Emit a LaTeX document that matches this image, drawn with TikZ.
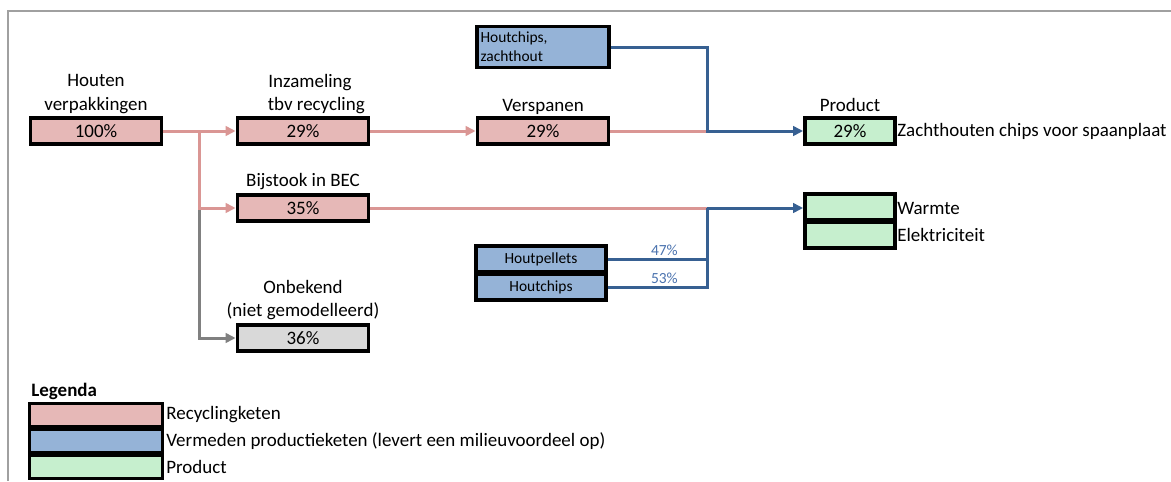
\documentclass[tikz,border=0pt]{standalone}
\usepackage{fontspec}
\setmainfont{Carlito}
\usetikzlibrary{arrows.meta}
\definecolor{pinkFill}{HTML}{E6B8B7}
\definecolor{blueFill}{HTML}{95B3D7}
\definecolor{greenFill}{HTML}{C6EFCE}
\definecolor{greyFill}{HTML}{D9D9D9}
\definecolor{pinkLine}{HTML}{DA9694}
\definecolor{blueLine}{HTML}{376092}
\definecolor{greyLine}{HTML}{808080}
\definecolor{pctBlue}{HTML}{4A72AE}
\definecolor{frameGrey}{HTML}{A0A0A0}
\newcommand{\mainSize}{\fontsize{10.8}{13.6}\selectfont}
\newcommand{\smallSize}{\fontsize{8.8}{11}\selectfont}
\tikzstyle{box} = [rectangle, draw=black, line width=0.075cm, inner sep=0pt, minimum height=0.52cm, font=\mainSize]
\tikzstyle{boxPink} = [box, minimum width=2.62cm, fill=pinkFill]
\tikzstyle{boxGrey} = [box, minimum width=2.62cm, fill=greyFill]
\tikzstyle{boxBlue} = [box, minimum width=2.64cm, fill=blueFill, font=\smallSize]
\tikzstyle{boxGreen} = [box, minimum width=1.8cm, fill=greenFill]
\tikzstyle{boxLegend} = [box, minimum width=2.66cm, minimum height=0.46cm]
\tikzstyle{label} = [align=center, font=\mainSize, inner sep=0pt]
\tikzstyle{sideText} = [anchor=west, font=\mainSize, inner sep=0pt]
\tikzstyle{pctLabel} = [font=\smallSize, text=pctBlue, inner sep=1pt]
\tikzstyle{linePink} = [draw=pinkLine, line width=0.06cm]
\tikzstyle{lineBlue} = [draw=blueLine, line width=0.06cm]
\tikzstyle{arrowPink} = [linePink, -{Triangle[length=0.2cm, width=0.19cm]}]
\tikzstyle{arrowBlue} = [lineBlue, -{Triangle[length=0.2cm, width=0.19cm]}]
\tikzstyle{arrowGrey} = [draw=greyLine, line width=0.06cm, -{Triangle[length=0.2cm, width=0.19cm]}]

\begin{document}
\begin{tikzpicture}[x=0.02cm, y=-0.02cm]

\useasboundingbox (0,0) rectangle (1171,481);
\draw[frameGrey, line width=0.04cm] (8,481) -- (8,11) -- (1171,11);

% recycling chain
\node (houten) [boxPink] at (96,131) {100\%};
\node (inzameling) [boxPink] at (303,131) {29\%};
\node (verspanen) [boxPink] at (543,131) {29\%};
\node (bijstook) [boxPink] at (303,208) {35\%};
\node (onbekend) [boxGrey] at (303,338) {36\%};

\node (houtenText) [label] at (96,94) {Houten\\verpakkingen};
\node (inzamelingText) [label] at (310,94) {Inzameling\\\hspace{0.25cm}tbv recycling};
\node (verspanenText) [label] at (543,107) {Verspanen};
\node (bijstookText) [label] at (303,182) {Bijstook in BEC};
\node (onbekendText) [label] at (303,300) {Onbekend\\(niet gemodelleerd)};

% avoided production
\node (zachthout) [boxBlue, minimum height=0.82cm, text width=2.5cm, inner xsep=0.07cm, align=left] at (543,47) {Houtchips,\\zachthout};
\node (houtpellets) [boxBlue, minimum width=2.6cm] at (541,259) {Houtpellets};
\node (houtchips) [boxBlue, minimum width=2.6cm] at (541,287) {Houtchips};

% products
\node (product) [boxGreen] at (850,131) {29\%};
\node (warmte) [boxGreen] at (850,207) {};
\node (elektriciteit) [boxGreen] at (850,235) {};
\node (productText) [label] at (850,105) {Product};
\node (chipsText) [sideText] at (897,131) {Zachthouten chips voor spaanplaat};
\node (warmteText) [sideText] at (897,208) {Warmte};
\node (elektriciteitText) [sideText] at (897,235) {Elektriciteit};

% connectors
\coordinate (splitTop) at (199,131);
\coordinate (splitMid) at (199,208);
\coordinate (joinTop) at (707,131);
\coordinate (joinMid) at (707,208);

\draw[arrowGrey] (splitMid) |- (onbekend.west);
\draw[arrowPink] (houten.east) -- (inzameling.west);
\draw[arrowPink] (splitTop) |- (bijstook.west);
\draw[arrowPink] (inzameling.east) -- (verspanen.west);
\draw[linePink] (verspanen.east) -- (joinTop);
\draw[linePink] (bijstook.east) -- (joinMid);
\draw[arrowBlue] (zachthout.east) -| (joinTop) -- (product.west);
\draw[lineBlue] (houtpellets.east) -- node[pctLabel, above, pos=0.57] {47\%} (houtpellets.east -| joinMid) -- (joinMid);
\draw[lineBlue] (houtchips.east) -- node[pctLabel, above, pos=0.57] {53\%} (houtchips.east -| joinMid) -- (joinMid);
\draw[arrowBlue] (joinMid) -- (joinMid -| warmte.west);

% legend
\node (legenda) [sideText, font=\mainSize\bfseries] at (31,391) {Legenda};
\node (legendPink) [boxLegend, fill=pinkFill] at (96,415) {};
\node (legendBlue) [boxLegend, fill=blueFill] at (96,441) {};
\node (legendGreen) [boxLegend, fill=greenFill] at (96,467) {};
\node (legendPinkText) [sideText] at (166,415) {Recyclingketen};
\node (legendBlueText) [sideText] at (166,441) {Vermeden productieketen (levert een milieuvoordeel op)};
\node (legendGreenText) [sideText] at (166,467) {Product};

\end{tikzpicture}
\end{document}
